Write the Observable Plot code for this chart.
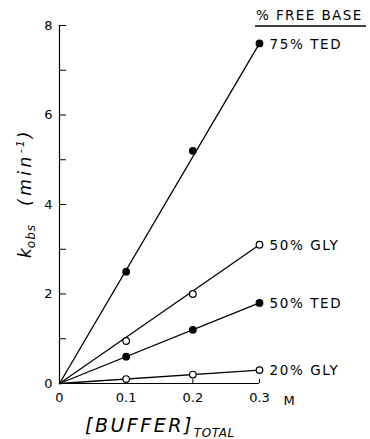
<!DOCTYPE html>
<html>
<head>
<meta charset="utf-8">
<script src="https://cdn.jsdelivr.net/npm/d3@7"></script>
<script src="https://cdn.jsdelivr.net/npm/@observablehq/plot@0.6"></script>
<style>
  html, body { margin: 0; padding: 0; background: #fff; }
  svg { font-family: "DejaVu Sans", sans-serif; }
</style>
</head>
<body>
<div id="chart"></div>
<script>
// Data
const concentrations = [0.1, 0.2, 0.3];               // [BUFFER]total, M
const series = ["75% TED", "50% GLY", "50% TED", "20% GLY"];
const filled = [true, false, true, false];
const kTED75 = [2.5, 5.2, 7.6];
const kGLY50 = [0.95, 2.0, 3.1];
const kTED50 = [0.6, 1.2, 1.8];
const kGLY20 = [0.1, 0.2, 0.3];
const values = [kTED75, kGLY50, kTED50, kGLY20];
const yTicks = [0, 1, 2, 3, 4, 5, 6, 7, 8];
const yLabels = [0, 2, 4, 6, 8];
const xTicks = [0, 0.1, 0.2, 0.3];
const xTickLabels = ["0", "0.1", "0.2", "0.3"];
const xUnit = "M";

const points = [];
const lines = [];
series.forEach((s, i) => {
  concentrations.forEach((c, j) => points.push({series: s, x: c, y: values[i][j], filled: filled[i]}));
  lines.push({series: s, x: 0, y: 0});
  lines.push({series: s, x: concentrations[concentrations.length - 1], y: values[i][values[i].length - 1]});
});
const labels = series.map((s, i) => ({series: s, x: concentrations[concentrations.length - 1], y: values[i][values[i].length - 1]}));

const chart = Plot.plot({
  width: 370,
  height: 439,
  marginLeft: 59,
  marginRight: 111,
  marginTop: 25,
  marginBottom: 56,
  style: {fontFamily: "DejaVu Sans, sans-serif", fontSize: "12px", color: "#000", background: "#fff"},
  x: {domain: [0, 0.3]},
  y: {domain: [0, 8]},
  marks: [
    Plot.ruleX([0], {stroke: "#000", strokeWidth: 1.2}),
    Plot.ruleY([0], {stroke: "#000", strokeWidth: 1.2}),
    Plot.axisY({ticks: yTicks, tickSize: 7, dx: 7, tickFormat: () => "", stroke: "#000", label: null}),
    Plot.axisY({ticks: yLabels, tickSize: 0, tickPadding: 7, tickFormat: d => String(d), fontSize: 13, fill: "#000", label: null}),
    Plot.axisX({ticks: xTicks.slice(1), tickSize: 4, dy: -4, tickFormat: () => "", stroke: "#000", label: null}),
    Plot.axisX({ticks: xTicks, tickSize: 0, tickPadding: 9, tickFormat: (d, i) => xTickLabels[i], fontSize: 13, fill: "#000", label: null}),
    Plot.line(lines, {x: "x", y: "y", z: "series", stroke: "#000", strokeWidth: 1.3}),
    Plot.dot(points, {x: "x", y: "y", r: 3.3, stroke: "#000", strokeWidth: 1.2, fill: d => d.filled ? "#000" : "#fff"}),
    Plot.text(labels, {x: "x", y: "y", text: "series", textAnchor: "start", dx: 10, dy: 1, fontSize: 13.5, fill: "#000"})
  ]
});

document.getElementById("chart").appendChild(chart);

const svg = d3.select(chart);
svg.selectAll("[aria-label='text'] text").style("letter-spacing", "1.6px");

const xs = chart.scale("x"), ys = chart.scale("y");
// unit "M" after the last x tick label
svg.append("text")
  .attr("x", xs.apply(xTicks[xTicks.length - 1]) + 30).attr("y", ys.apply(0) + 22)
  .attr("text-anchor", "middle")
  .attr("font-size", 13).attr("fill", "#000")
  .text(xUnit);

// Legend header "% FREE BASE"
svg.append("text")
  .attr("x", 256).attr("y", 20)
  .attr("text-anchor", "start")
  .attr("font-size", 13.5).attr("fill", "#000")
  .style("letter-spacing", "1.4px")
  .text("% FREE BASE");
svg.append("line")
  .attr("x1", 255).attr("x2", 366).attr("y1", 26).attr("y2", 26)
  .attr("stroke", "#000").attr("stroke-width", 1.3);

// Y axis label: k_obs (min^-1)
const yl = svg.append("text")
  .attr("transform", "translate(31,258) rotate(-90)")
  .attr("text-anchor", "start")
  .attr("font-style", "italic").attr("font-size", 17).attr("fill", "#000");
yl.append("tspan").text("k");
yl.append("tspan").attr("font-size", 12).attr("dy", 4).style("letter-spacing", "1px").text("obs");
yl.append("tspan").attr("dy", -4).attr("dx", 18).style("letter-spacing", "3.5px").text("(min");
yl.append("tspan").attr("font-size", 11).attr("dy", -7).style("letter-spacing", "2px").text("-1");
yl.append("tspan").attr("dy", 7).text(")");

// X axis label: [BUFFER]_TOTAL
const xl = svg.append("text")
  .attr("x", 85).attr("y", 432)
  .attr("text-anchor", "start")
  .attr("font-style", "italic").attr("font-size", 19).attr("fill", "#000")
  .style("letter-spacing", "2.5px");
xl.append("tspan").text("[BUFFER]");
xl.append("tspan").attr("font-size", 12).attr("dy", 5).style("letter-spacing", "0.6px").text("TOTAL");
</script>
</body>
</html>
